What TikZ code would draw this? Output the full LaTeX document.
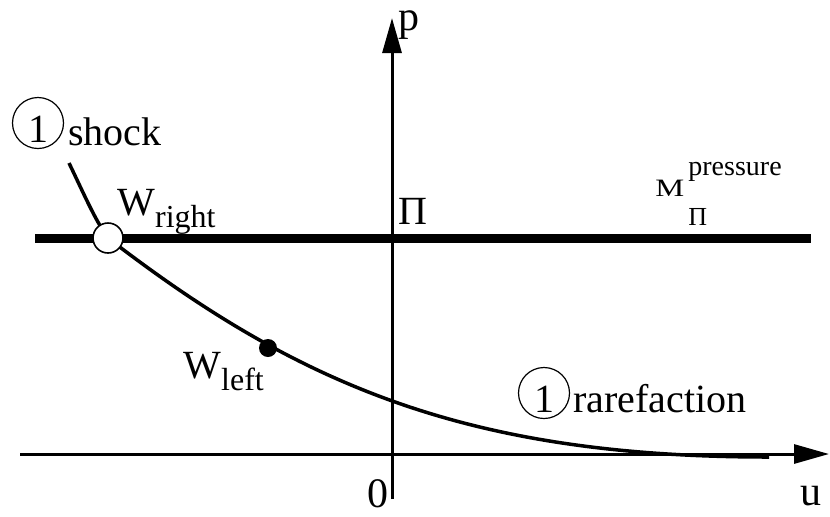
\documentclass[tikz,border=0pt]{standalone}
\usepackage{fontspec}
\setmainfont{Liberation Serif}
\usetikzlibrary{arrows.meta}

\newcommand{\lowsub}[1]{\raisebox{-6pt}{\fontsize{16}{18}\selectfont #1}}

\begin{document}
\begin{tikzpicture}[
    x=0.5pt, y=-0.5pt,
    >={Triangle[length=17.5pt,width=9.5pt]},
    axis/.style={line width=1.5pt},
    level/.style={line width=4.5pt},
    wave/.style={line width=1.75pt},
    lbl/.style={inner sep=0pt, font=\fontsize{20}{24}\selectfont},
    ring/.style={
        circle,
        draw,
        line width=0.6pt,
        minimum size=25.5pt,
        inner sep=0pt,
        text height=19pt,
        text depth=0pt,
        font=\fontsize{20}{24}\selectfont
    },
    hole/.style={circle, draw, fill=white, line width=0.8pt, minimum size=15pt, inner sep=0pt},
    dot/.style={circle, fill=black, minimum size=9pt, inner sep=0pt}
]
\useasboundingbox (0,0) rectangle (830,516);

% Axes
\coordinate (ubeg) at (20,454);
\coordinate (uend) at (829,454);
\coordinate (pbeg) at (392,499);
\coordinate (pend) at (392,18);
\draw[axis,->] (ubeg) -- (uend);
\draw[axis,->] (pbeg) -- (pend);
\node[lbl, font=\fontsize{21}{24}\selectfont, anchor=base west] (ulbl) at (800,505) {u};
\node[lbl, font=\fontsize{21}{24}\selectfont, anchor=base west] (plbl) at (398,30) {p};
\node[lbl, font=\fontsize{21}{24}\selectfont, anchor=base west] (zero) at (367,507) {0};

% Pressure level
\coordinate (lbeg) at (35,238.5);
\coordinate (lend) at (811,238.5);
\draw[level] (lbeg) -- (lend);
\node[lbl, anchor=base west] (pi) at (398,224) {Π};
\node[inner sep=0pt, anchor=base west] (mlbl) at (655,196) {\scalebox{1.3}[1]{\fontsize{12.5}{14}\selectfont M}};
\node[inner sep=0pt, anchor=base west, font=\fontsize{13}{15}\selectfont] (mpi) at (688,225) {Π};
\node[inner sep=0pt, anchor=base west, font=\fontsize{14}{16}\selectfont] (mpress) at (688,175) {pressure};

% Wave curve: shock branch, then rarefaction branch
\coordinate (top) at (69,163);
\coordinate (wrpt) at (108,238);
\coordinate (tail) at (769,457);
\draw[wave] (top) .. controls (83,192) and (95,220) .. (wrpt)
    .. controls (300,386) and (469,457) .. (tail);

% States
\node[hole] (wr) at (wrpt) {};
\node[dot] (wl) at (268,348) {};
\node[lbl, anchor=base west] (wrlbl) at (117,215) {W\lowsub{right}};
\node[lbl, anchor=base west] (wllbl) at (183,378) {W\lowsub{left}};

% Wave names
\node[ring] (shocknum) at (38,123) {1};
\node[lbl, anchor=base west] (shock) at (68,145) {shock};
\node[ring] (rarenum) at (544,393) {1};
\node[lbl, anchor=base west] (rare) at (573,412) {rarefaction};

\end{tikzpicture}
\end{document}
